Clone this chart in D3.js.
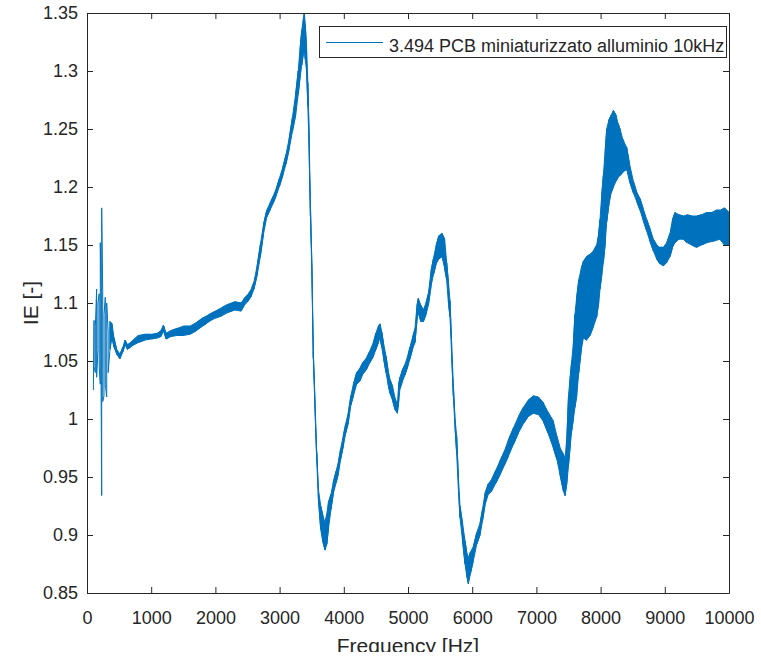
<!DOCTYPE html>
<html>
<head>
<meta charset="utf-8">
<script src="https://cdn.jsdelivr.net/npm/d3@7"></script>
<style>
    body { margin: 0; background: #fff; }
    svg text { font-family: "Liberation Sans", Arial, Helvetica, sans-serif; fill: #262626; }
</style>
</head>
<body>
<svg id="chart" width="761" height="658"></svg>
<script>
// frequency [Hz] and the min / max of IE read for each frequency (noise band)
let freq = [100, 110, 130, 150, 170, 190, 207, 220, 229, 245, 265, 285, 307, 330, 358, 390, 420, 462, 514, 560,
    592, 630, 700, 800, 900, 1000, 1100, 1150, 1190, 1230, 1300, 1400, 1500, 1600, 1700, 1800, 1900, 2000, 2100, 2200,
    2300, 2400, 2450, 2500, 2560, 2600, 2650, 2700, 2750, 2800, 2850, 2900, 2950, 3000, 3050, 3100, 3150, 3200, 3250, 3290,
    3320, 3345, 3370, 3385, 3400, 3420, 3440, 3460, 3480, 3505, 3525, 3552, 3578, 3603, 3640, 3670, 3708, 3735, 3760, 3800,
    3838, 3880, 3916, 3950, 3994, 4030, 4072, 4110, 4150, 4200, 4254, 4300, 4357, 4400, 4461, 4500, 4539, 4565, 4591, 4620,
    4658, 4690, 4720, 4760, 4798, 4834, 4855, 4875, 4910, 4953, 5000, 5031, 5070, 5109, 5140, 5161, 5200, 5239, 5280, 5317,
    5360, 5395, 5440, 5480, 5530, 5570, 5602, 5630, 5654, 5680, 5706, 5730, 5758, 5785, 5810, 5850, 5888, 5915, 5940, 5970,
    6018, 6070, 6122, 6160, 6200, 6250, 6304, 6370, 6434, 6500, 6564, 6641, 6720, 6797, 6870, 6953, 7030, 7108, 7180, 7264,
    7320, 7368, 7420, 7446, 7475, 7500, 7524, 7550, 7576, 7600, 7628, 7660, 7700, 7732, 7780, 7835, 7890, 7939, 7970, 7991,
    8020, 8043, 8070, 8095, 8130, 8165, 8199, 8240, 8270, 8303, 8340, 8370, 8407, 8450, 8510, 8560, 8614, 8660, 8718, 8770,
    8822, 8874, 8920, 8977, 9030, 9081, 9120, 9159, 9220, 9288, 9350, 9420, 9496, 9570, 9652, 9730, 9800, 9860, 9930, 10000];

let ieLow = [1.025, 1.045, 1.040, 1.036, 1.060, 1.045, 1.030, 1.020, 0.934, 1.015, 1.020, 1.030, 1.019, 1.040, 1.060, 1.070, 1.062, 1.056, 1.052, 1.058,
    1.064, 1.060, 1.063, 1.066, 1.068, 1.069, 1.070, 1.071, 1.076, 1.069, 1.071, 1.072, 1.072, 1.073, 1.076, 1.080, 1.084, 1.087, 1.089, 1.092,
    1.094, 1.093, 1.098, 1.101, 1.106, 1.112, 1.124, 1.140, 1.160, 1.174, 1.180, 1.186, 1.193, 1.201, 1.210, 1.220, 1.233, 1.248, 1.262, 1.280,
    1.295, 1.305, 1.315, 1.320, 1.310, 1.300, 1.270, 1.230, 1.175, 1.120, 1.052, 1.008, 0.965, 0.932, 0.905, 0.895, 0.887, 0.892, 0.905, 0.922,
    0.936, 0.945, 0.953, 0.965, 0.977, 0.988, 0.997, 1.012, 1.020, 1.030, 1.033, 1.039, 1.043, 1.048, 1.054, 1.060, 1.066, 1.070, 1.062, 1.052,
    1.040, 1.030, 1.022, 1.016, 1.008, 1.005, 1.015, 1.026, 1.032, 1.038, 1.046, 1.052, 1.060, 1.066, 1.085, 1.092, 1.084, 1.084, 1.090, 1.098,
    1.115, 1.124, 1.134, 1.138, 1.140, 1.130, 1.120, 1.100, 1.088, 1.055, 1.020, 0.995, 0.970, 0.940, 0.915, 0.895, 0.875, 0.865, 0.858, 0.866,
    0.878, 0.892, 0.900, 0.912, 0.926, 0.935, 0.938, 0.945, 0.952, 0.960, 0.968, 0.978, 0.988, 0.996, 1.002, 1.005, 1.004, 0.998, 0.988, 0.975,
    0.965, 0.952, 0.938, 0.934, 0.945, 0.960, 0.975, 0.990, 1.000, 1.010, 1.020, 1.040, 1.060, 1.070, 1.068, 1.072, 1.080, 1.088, 1.100, 1.112,
    1.125, 1.135, 1.150, 1.170, 1.185, 1.195, 1.200, 1.205, 1.208, 1.210, 1.212, 1.214, 1.215, 1.205, 1.195, 1.188, 1.180, 1.172, 1.162, 1.153,
    1.145, 1.138, 1.134, 1.132, 1.135, 1.140, 1.148, 1.152, 1.155, 1.155, 1.152, 1.150, 1.148, 1.150, 1.152, 1.153, 1.154, 1.155, 1.150, 1.150];

let ieHigh = [1.030, 1.085, 1.080, 1.112, 1.100, 1.108, 1.152, 1.110, 1.182, 1.110, 1.090, 1.105, 1.100, 1.075, 1.084, 1.082, 1.070, 1.060, 1.056, 1.062,
    1.068, 1.064, 1.067, 1.072, 1.073, 1.073, 1.074, 1.076, 1.081, 1.074, 1.076, 1.078, 1.080, 1.080, 1.083, 1.087, 1.090, 1.093, 1.096, 1.099,
    1.101, 1.100, 1.104, 1.107, 1.112, 1.118, 1.132, 1.150, 1.168, 1.180, 1.186, 1.192, 1.199, 1.208, 1.217, 1.228, 1.242, 1.260, 1.280, 1.300,
    1.320, 1.335, 1.345, 1.350, 1.340, 1.320, 1.290, 1.245, 1.185, 1.128, 1.058, 1.014, 0.972, 0.940, 0.925, 0.918, 0.910, 0.918, 0.928, 0.935,
    0.946, 0.955, 0.963, 0.974, 0.986, 0.996, 1.006, 1.020, 1.030, 1.040, 1.044, 1.049, 1.053, 1.058, 1.066, 1.074, 1.080, 1.082, 1.075, 1.065,
    1.054, 1.042, 1.034, 1.028, 1.018, 1.012, 1.030, 1.036, 1.042, 1.047, 1.055, 1.062, 1.070, 1.078, 1.098, 1.104, 1.098, 1.094, 1.100, 1.108,
    1.128, 1.138, 1.150, 1.158, 1.160, 1.155, 1.135, 1.118, 1.102, 1.065, 1.030, 1.002, 0.985, 0.950, 0.925, 0.910, 0.895, 0.885, 0.880, 0.885,
    0.890, 0.902, 0.910, 0.922, 0.936, 0.944, 0.948, 0.956, 0.964, 0.972, 0.982, 0.992, 1.002, 1.010, 1.016, 1.020, 1.019, 1.014, 1.006, 0.998,
    0.985, 0.975, 0.970, 0.965, 0.985, 1.020, 1.035, 1.050, 1.065, 1.090, 1.105, 1.120, 1.130, 1.136, 1.140, 1.142, 1.145, 1.150, 1.160, 1.172,
    1.195, 1.210, 1.230, 1.250, 1.258, 1.262, 1.266, 1.262, 1.255, 1.250, 1.242, 1.238, 1.234, 1.220, 1.205, 1.196, 1.190, 1.182, 1.172, 1.164,
    1.155, 1.150, 1.148, 1.148, 1.152, 1.160, 1.172, 1.178, 1.176, 1.175, 1.176, 1.175, 1.175, 1.176, 1.178, 1.178, 1.180, 1.180, 1.182, 1.178];

let xTicks = [0, 1000, 2000, 3000, 4000, 5000, 6000, 7000, 8000, 9000, 10000];
let xTickLabels = ["0", "1000", "2000", "3000", "4000", "5000", "6000", "7000", "8000", "9000", "10000"];
let yTicks = [0.85, 0.9, 0.95, 1, 1.05, 1.1, 1.15, 1.2, 1.25, 1.3, 1.35];
let yTickLabels = ["0.85", "0.9", "0.95", "1", "1.05", "1.1", "1.15", "1.2", "1.25", "1.3", "1.35"];
let seriesName = "3.494 PCB miniaturizzato alluminio 10kHz";

let lineColor = "#0072BD";
let axisColor = "#262626";

let svg = d3.select("#chart");
let boxLeft = 87, boxRight = 729, boxTop = 13, boxBottom = 593;

let xScale = d3.scaleLinear().domain([0, 10000]).range([boxLeft, boxRight]);
let yScale = d3.scaleLinear().domain([0.85, 1.35]).range([boxBottom, boxTop]);

let data = freq.map(function (f, i) {
    return {f: f, lo: ieLow[i], hi: ieHigh[i]};
});

// clip the curve to the axes box
let defs = svg.append("defs");
defs.append("clipPath").attr("id", "plotClip")
    .append("rect")
    .attr("x", boxLeft).attr("y", boxTop - 1)
    .attr("width", boxRight - boxLeft).attr("height", boxBottom - boxTop + 2);

// the original picture is cut just under the x label
defs.append("clipPath").attr("id", "pageClip")
    .append("rect")
    .attr("x", 0).attr("y", 0)
    .attr("width", 761).attr("height", 652);

let plot = svg.append("g").attr("clip-path", "url(#plotClip)");

// noise band: filled between min and max after the first spiky part
let area = d3.area()
    .x(function (d) { return xScale(d.f); })
    .y0(function (d) { return yScale(d.lo); })
    .y1(function (d) { return yScale(d.hi); });

plot.append("path")
    .datum(data.filter(function (d) { return d.f >= 358; }))
    .attr("d", area)
    .attr("fill", lineColor)
    .attr("stroke", lineColor)
    .attr("stroke-width", 1);

// the trace itself: goes to min and max at each frequency
let pts = [];
data.forEach(function (d, i) {
    if (i % 2 === 0) {
        pts.push([d.f, d.lo]);
        pts.push([d.f, d.hi]);
    } else {
        pts.push([d.f, d.hi]);
        pts.push([d.f, d.lo]);
    }
});

let line = d3.line()
    .x(function (p) { return xScale(p[0]); })
    .y(function (p) { return yScale(p[1]); });

plot.append("path")
    .datum(pts)
    .attr("d", line)
    .attr("fill", "none")
    .attr("stroke", lineColor)
    .attr("stroke-width", 1);

// axes with inward ticks
let xAxis = d3.axisBottom(xScale).tickValues(xTicks)
    .tickFormat(function (d, i) { return xTickLabels[i]; })
    .tickSizeInner(-6).tickSizeOuter(0).tickPadding(18);
let yAxis = d3.axisLeft(yScale).tickValues(yTicks)
    .tickFormat(function (d, i) { return yTickLabels[i]; })
    .tickSizeInner(-6).tickSizeOuter(0).tickPadding(9);

let gx = svg.append("g").attr("transform", "translate(0," + boxBottom + ")").call(xAxis);
let gy = svg.append("g").attr("transform", "translate(" + boxLeft + ",0)").call(yAxis);

// top and right ticks, no labels
let gxTop = svg.append("g").attr("transform", "translate(0," + boxTop + ")")
    .call(d3.axisTop(xScale).tickValues(xTicks).tickFormat("").tickSizeInner(-6).tickSizeOuter(0));
let gyRight = svg.append("g").attr("transform", "translate(" + boxRight + ",0)")
    .call(d3.axisRight(yScale).tickValues(yTicks).tickFormat("").tickSizeInner(-6).tickSizeOuter(0));

[gx, gy, gxTop, gyRight].forEach(function (g) {
    g.selectAll("path.domain").attr("stroke", axisColor);
    g.selectAll(".tick line").attr("stroke", axisColor);
    g.selectAll("text")
        .style("font-family", "'Liberation Sans', Arial, sans-serif")
        .style("font-size", "18px")
        .attr("fill", axisColor);
});

// axis labels
svg.append("text")
    .attr("clip-path", "url(#pageClip)")
    .attr("x", (boxLeft + boxRight) / 2)
    .attr("y", 652.5)
    .attr("text-anchor", "middle")
    .style("font-size", "21px")
    .text("Frequency [Hz]");

svg.append("text")
    .attr("transform", "translate(38," + (boxTop + boxBottom) / 2 + ") rotate(-90)")
    .attr("text-anchor", "middle")
    .style("font-size", "21px")
    .text("IE [-]");

// legend
let legend = svg.append("g");
legend.append("rect")
    .attr("x", 319.5).attr("y", 26.5)
    .attr("width", 407).attr("height", 31)
    .attr("fill", "#fff")
    .attr("stroke", axisColor)
    .attr("stroke-width", 1);
legend.append("line")
    .attr("x1", 326).attr("x2", 383)
    .attr("y1", 42.5).attr("y2", 42.5)
    .attr("stroke", lineColor)
    .attr("stroke-width", 1);
legend.append("text")
    .attr("x", 389)
    .attr("y", 51.5)
    .style("font-size", "18px")
    .text(seriesName);
</script>
</body>
</html>
